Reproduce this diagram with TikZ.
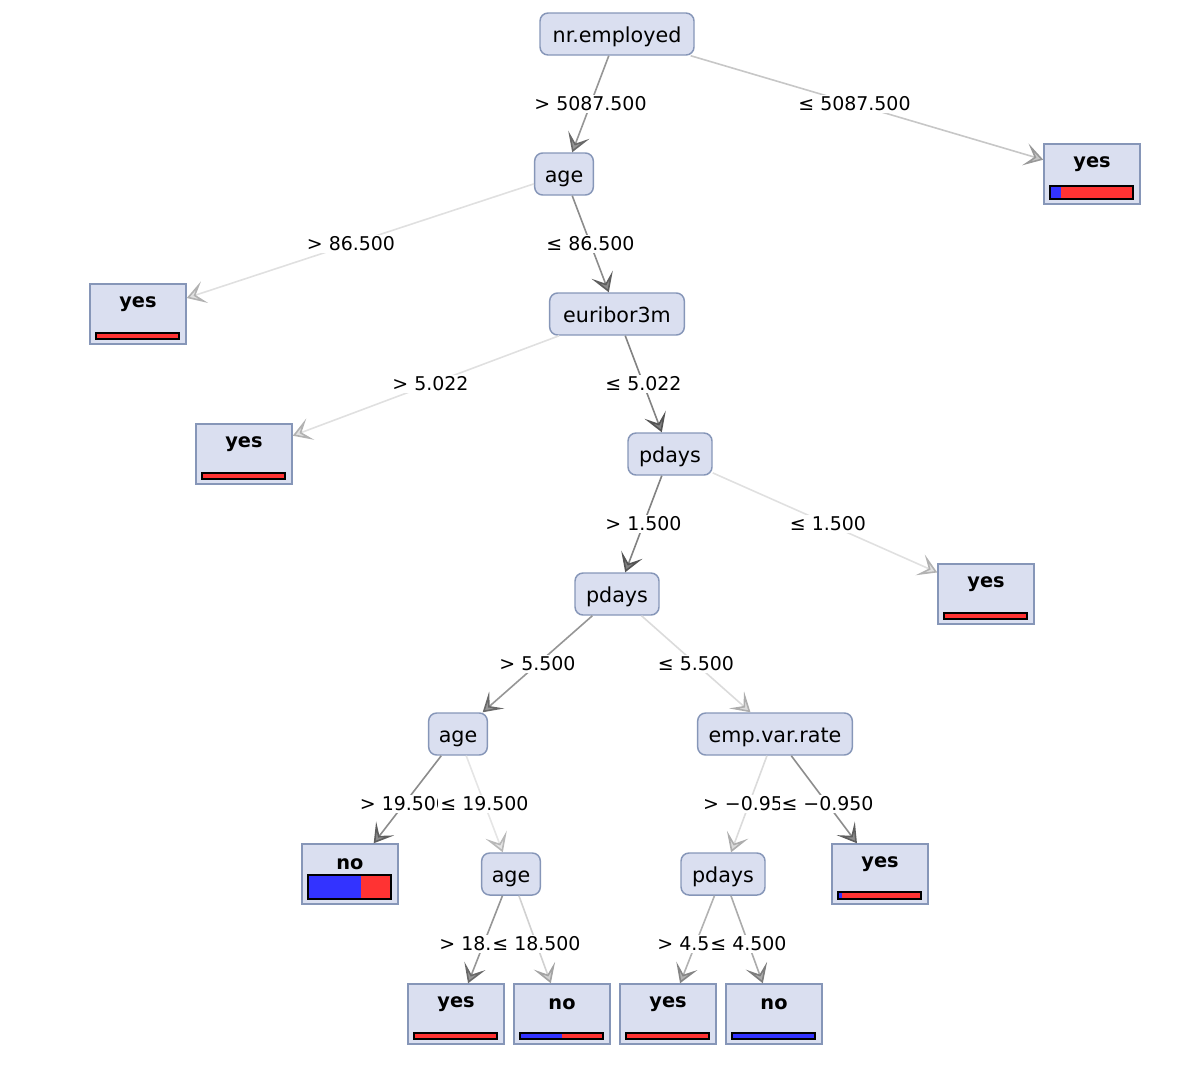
\documentclass[tikz,border=0pt]{standalone}
\usepackage{fontspec}
\setmainfont{DejaVu Sans}
\usetikzlibrary{arrows.meta,calc}
\definecolor{nfill}{RGB}{218,223,240}
\definecolor{nborder}{RGB}{134,150,184}
\definecolor{barblue}{RGB}{51,51,255}
\definecolor{barred}{RGB}{255,51,51}
\newcommand\leafnode[6]{%
  \node[leaf] (#1) at (#2,#3) {};
  \node[leaftext] at (#2,#3-10) {#4};
  \fill[barred] (#2-42,#3+25) rectangle (#2+41,#3+25-#6);
  \fill[barblue] (#2-42,#3+25) rectangle ({#2-42+83*#5},#3+25-#6);
  \draw[line width=1.1pt] (#2-42,#3+25) rectangle (#2+41,#3+25-#6);
}
\newcommand\edgelab[4]{%
  \pgfmathtruncatemacro\arrdark{#3+18}%
  \colorlet{edgecol}{black!#3}%
  \colorlet{arrcol}{black!\arrdark}%
  \draw[edge] (#1) -- (#2);
  \node[lbl] at ($(#1.center)!0.5!(#2.center)$) {#4};
}
\tikzset{
  inner/.style={draw=nborder, fill=nfill, rounded corners=6pt, line width=1.1pt,
    minimum height=31.5pt, inner xsep=0pt, minimum width=#1,
    text height=12.3pt, text depth=0pt,
    font=\fontsize{15.5}{18}\selectfont},
  leaf/.style={draw=nborder, fill=nfill, line width=1.1pt, minimum width=72pt,
    minimum height=45pt, inner sep=0pt},
  leaftext/.style={font=\bfseries\fontsize{14.5}{17}\selectfont, inner sep=0pt},
  lbl/.style={fill=white, font=\fontsize{14.2}{17}\selectfont, inner sep=1.5pt},
  edge/.style={draw=edgecol, line width=1.2pt,
    -{Stealth[length=14pt,width=17pt,inset=7pt,fill=edgecol,color=arrcol]}},
}
\begin{document}
\begin{tikzpicture}[x=0.75pt,y=-0.75pt]
\useasboundingbox (0,0) rectangle (1184,1082);
% inner nodes
\node[inner=115.5pt] (nr) at (617,34) {nr.employed};
\node[inner=44pt] (age1) at (564,174) {age};
\node[inner=101pt] (eur) at (617,314) {euribor3m};
\node[inner=63pt] (pd1) at (670,454) {pdays};
\node[inner=63pt] (pd2) at (617,594) {pdays};
\node[inner=44pt] (age2) at (458,734) {age};
\node[inner=116pt] (emp) at (775,734) {emp.var.rate};
\node[inner=44pt] (age3) at (511,874) {age};
\node[inner=63pt] (pd3) at (723,874) {pdays};
% leaves
\leafnode{l1}{1092}{174}{yes}{0.13}{13}
\leafnode{l2}{138}{314}{yes}{0}{6}
\leafnode{l3}{244}{454}{yes}{0}{6}
\leafnode{l4}{986}{594}{yes}{0}{6}
\leafnode{l5}{350}{874}{no}{0.64}{24}
\leafnode{l6}{880}{874}{yes}{0.05}{7}
\leafnode{l7}{456}{1014}{yes}{0}{6}
\leafnode{l8}{562}{1014}{no}{0.5}{6}
\leafnode{l9}{668}{1014}{yes}{0}{6}
\leafnode{l10}{774}{1014}{no}{1}{6}
% edges
\edgelab{nr}{age1}{41}{> 5087.500}
\edgelab{nr}{l1}{22}{≤ 5087.500}
\edgelab{age1}{l2}{12}{> 86.500}
\edgelab{age1}{eur}{45}{≤ 86.500}
\edgelab{eur}{l3}{12}{> 5.022}
\edgelab{eur}{pd1}{49}{≤ 5.022}
\edgelab{pd1}{pd2}{49}{> 1.500}
\edgelab{pd1}{l4}{12}{≤ 1.500}
\edgelab{pd2}{age2}{41}{> 5.500}
\edgelab{pd2}{emp}{14}{≤ 5.500}
\edgelab{age2}{l5}{45}{> 19.500}
\edgelab{age2}{age3}{10}{≤ 19.500}
\edgelab{emp}{pd3}{14}{> −0.950}
\edgelab{emp}{l6}{45}{≤ −0.950}
\edgelab{age3}{l7}{41}{> 18.500}
\edgelab{age3}{l8}{18}{≤ 18.500}
\edgelab{pd3}{l9}{30}{> 4.500}
\edgelab{pd3}{l10}{33}{≤ 4.500}
\end{tikzpicture}
\end{document}
